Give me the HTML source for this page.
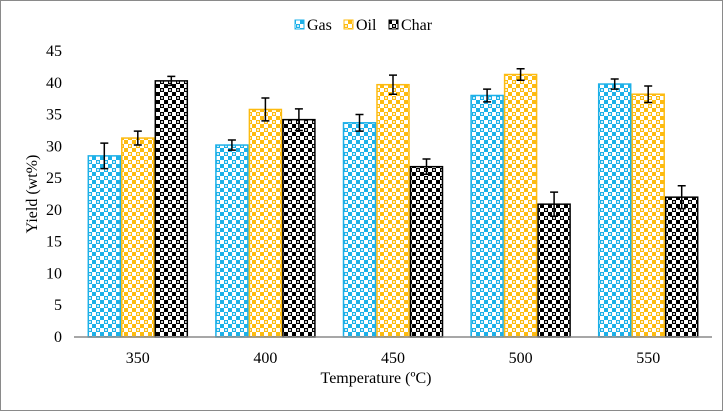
<!DOCTYPE html>
<html><head><meta charset="utf-8"><style>
body{margin:0;background:#fff}
svg{display:block;font-family:"Liberation Serif",serif}
</style></head><body>
<svg id="c" width="723" height="411">
<defs>
<pattern id="pGas" width="8" height="8" patternUnits="userSpaceOnUse"><rect width="8" height="8" fill="#1cb0e8"/><rect x="4" y="0" width="4" height="4" fill="#fff"/><rect x="0" y="4" width="4" height="4" fill="#fff"/><circle cx="2" cy="2" r="1" fill="#fff"/><circle cx="6" cy="6" r="1" fill="#1cb0e8"/></pattern>
<pattern id="pOil" width="8" height="8" patternUnits="userSpaceOnUse"><rect width="8" height="8" fill="#fdbb10"/><rect x="4" y="0" width="4" height="4" fill="#fff"/><rect x="0" y="4" width="4" height="4" fill="#fff"/><circle cx="2" cy="2" r="1" fill="#fff"/><circle cx="6" cy="6" r="1" fill="#fdbb10"/></pattern>
<pattern id="pChar" width="8" height="8" patternUnits="userSpaceOnUse"><rect width="8" height="8" fill="#000"/><rect x="4" y="0" width="4" height="4" fill="#fff"/><rect x="0" y="4" width="4" height="4" fill="#fff"/><circle cx="2" cy="2" r="1" fill="#fff"/><circle cx="6" cy="6" r="1" fill="#000"/></pattern>
</defs>
<rect x="0.5" y="0.5" width="722" height="410" fill="#fff" stroke="#8a8a8a"/>
<g id="plot"></g>
<text x="376" y="383" text-anchor="middle" font-size="16">Temperature (ºC)</text>
<text transform="translate(37,194) rotate(-90)" text-anchor="middle" font-size="16">Yield (wt%)</text>
<g font-size="16">
<g><rect x="295" y="20" width="9" height="9" fill="url(#pGas)" stroke="#1cb0e8"/><text x="307" y="30">Gas</text></g>
<g><rect x="344" y="20" width="9" height="9" fill="url(#pOil)" stroke="#fdbb10"/><text x="356" y="30">Oil</text></g>
<g><rect x="389" y="20" width="9" height="9" fill="url(#pChar)" stroke="#000"/><text x="401" y="30">Char</text></g>
</g>
</svg>
<script>
const categories=["350","400","450","500","550"];
const gasValues=[28.5,30.2,33.7,38.0,39.8];
const oilValues=[31.3,35.8,39.7,41.3,38.2];
const charValues=[40.3,34.2,26.8,20.9,22.0];
const gasErr=[2.0,0.8,1.3,1.0,0.8];
const oilErr=[1.1,1.8,1.5,0.9,1.3];
const charErr=[0.7,1.7,1.2,1.9,1.8];
const yTicks=[0,5,10,15,20,25,30,35,40,45];
const NS="http://www.w3.org/2000/svg";
const g=document.getElementById('plot');
const x0=74,x1=712,y0=337,y45=51;
const yS=v=>y0-(v/45)*(y0-y45);
const band=(x1-x0)/categories.length;
const xC=i=>x0+band*(i+0.5);
function mk(t,a){const e=document.createElementNS(NS,t);for(const k in a)e.setAttribute(k,a[k]);g.appendChild(e);return e;}
yTicks.forEach(t=>{const e=mk('text',{x:62,y:yS(t)+5,'text-anchor':'end','font-size':16});e.textContent=t;

});
const series=[["gas",gasValues,gasErr,"url(#pGas)","#1cb0e8"],["oil",oilValues,oilErr,"url(#pOil)","#fdbb10"],["char",charValues,charErr,"url(#pChar)","#000"]];
const bw=33.5;
categories.forEach((c,i)=>{
 const t=mk('text',{x:xC(i),y:363,'text-anchor':'middle','font-size':16});t.textContent=c;
 
 
 series.forEach((s,j)=>{
  const v=s[1][i],er=s[2][i],bx=xC(i)+(j-1.5)*bw;
  const r=mk('rect',{x:bx+0.75,y:yS(v),width:bw-1.5,height:y0-yS(v),fill:s[3],stroke:s[4],'stroke-width':1.5});
  
  
  const cx=bx+bw/2;
  const eb=mk('path',{d:`M${cx} ${yS(v+er)}V${yS(v-er)}M${cx-4} ${yS(v+er)}H${cx+4}M${cx-4} ${yS(v-er)}H${cx+4}`,stroke:'#000','stroke-width':1.5,fill:'none'});
  
  
 });
});
const ax=mk('line',{x1:x0,x2:x1,y1:y0,y2:y0,stroke:'#8a8a8a','stroke-width':1.5});


</script>
</body></html>
